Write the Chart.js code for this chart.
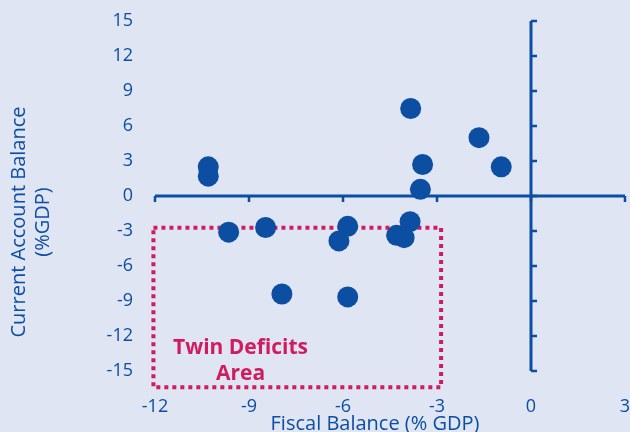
<!DOCTYPE html>
<html>
<head>
<meta charset="utf-8">
<script src="https://cdn.jsdelivr.net/npm/chart.js@4.4.1/dist/chart.umd.min.js"></script>
<style>
  html, body { margin: 0; padding: 0; background: #dfe5f3; }
  #wrap { width: 630px; height: 432px; }
</style>
</head>
<body>
<div id="wrap"><canvas id="chart" width="630" height="432"></canvas></div>
<script>
// fiscal balance (% GDP) and current account balance (% GDP) per country
const fiscalBalance = [-10.3, -10.3, -9.65, -8.47, -7.95, -5.85, -6.13, -5.85, -3.86, -4.29, -4.05, -3.84, -3.46, -3.53, -1.66, -0.95];
const currentAccount = [2.5, 1.7, -3.1, -2.7, -8.4, -2.6, -3.85, -8.65, -2.2, -3.37, -3.57, 7.5, 2.7, 0.57, 5.0, 2.5];

const xTicks = [-12, -9, -6, -3, 0, 3];
const yTicks = [15, 12, 9, 6, 3, 0, -3, -6, -9, -12, -15];

// twin deficits box corners (x, y)
const boxX = [-12.05, -2.87, -2.87, -12.05, -12.05];
const boxY = [-2.72, -2.72, -16.4, -16.4, -2.72];

const blue = '#0b4ea2';
const magenta = '#d01c5e';
const font = "'Open Sans', sans-serif";

const points = fiscalBalance.map((x, i) => ({ x: x, y: currentAccount[i] }));
const box = boxX.map((x, i) => ({ x: x, y: boxY[i] }));

const crossAxes = {
  id: 'crossAxes',
  beforeDatasetsDraw(chart) {
    const { ctx, scales: { x, y } } = chart;
    const x0 = x.getPixelForValue(0);
    const y0 = y.getPixelForValue(0);
    ctx.save();
    ctx.strokeStyle = blue;
    ctx.lineWidth = 3;
    ctx.beginPath();
    ctx.moveTo(x.getPixelForValue(xTicks[0]), y0);
    ctx.lineTo(x.getPixelForValue(xTicks[xTicks.length - 1]), y0);
    ctx.moveTo(x0, y.getPixelForValue(yTicks[0]));
    ctx.lineTo(x0, y.getPixelForValue(yTicks[yTicks.length - 1]));
    ctx.stroke();
    ctx.lineWidth = 2.5;
    ctx.beginPath();
    xTicks.forEach(v => {
      const px = x.getPixelForValue(v);
      ctx.moveTo(px, y0);
      ctx.lineTo(px, y0 + 6);
    });
    yTicks.forEach(v => {
      const py = y.getPixelForValue(v);
      ctx.moveTo(x0, py);
      ctx.lineTo(x0 + 6, py);
    });
    ctx.stroke();
    ctx.restore();
  },
  afterDraw(chart) {
    const { ctx, scales: { x, y } } = chart;
    ctx.save();
    ctx.textAlign = 'center';
    ctx.textBaseline = 'middle';
    // box label
    ctx.fillStyle = magenta;
    ctx.font = "bold 21px " + font;
    const cx = x.getPixelForValue(-9.27);
    ctx.fillText('Twin Deficits', cx, y.getPixelForValue(-13.03));
    ctx.fillText('Area', cx, y.getPixelForValue(-15.26));
    // axis titles
    ctx.fillStyle = blue;
    ctx.font = "20px " + font;
    ctx.fillText('Fiscal Balance (% GDP)', 375, 424);
    ctx.translate(0, 222);
    ctx.rotate(-Math.PI / 2);
    ctx.fillText('Current Account Balance', 0, 19);
    ctx.fillText('(%GDP)', 0, 43);
    ctx.restore();
  }
};

new Chart(document.getElementById('chart'), {
  type: 'scatter',
  data: {
    datasets: [
      {
        data: points,
        backgroundColor: blue,
        borderColor: blue,
        pointRadius: 10.5,
        pointHoverRadius: 10.5,
        borderWidth: 0
      },
      {
        type: 'line',
        data: box,
        borderColor: magenta,
        borderWidth: 4,
        borderDash: [4, 4],
        pointRadius: 0,
        fill: false,
        clip: false
      }
    ]
  },
  options: {
    responsive: false,
    animation: false,
    events: [],
    layout: { autoPadding: false, padding: { top: 21, right: 5, left: 0, bottom: 0 } },
    plugins: { legend: { display: false }, tooltip: { enabled: false } },
    scales: {
      x: {
        type: 'linear',
        min: -12,
        max: 3,
        afterBuildTicks: s => { s.ticks = xTicks.map(v => ({ value: v })); },
        afterFit: s => { s.height = 61; s.paddingLeft = 0; s.paddingRight = 0; },
        grid: { display: false, drawTicks: false },
        border: { display: false },
        ticks: { color: blue, font: { family: font, size: 18 }, padding: 25, maxRotation: 0 }
      },
      y: {
        type: 'linear',
        min: -15,
        max: 15,
        afterBuildTicks: s => { s.ticks = yTicks.map(v => ({ value: v })); },
        afterFit: s => { s.width = 155; s.paddingTop = 0; s.paddingBottom = 0; },
        grid: { display: false, drawTicks: false },
        border: { display: false },
        ticks: { color: blue, font: { family: font, size: 18 }, padding: 22 }
      }
    }
  },
  plugins: [crossAxes]
});
</script>
</body>
</html>
